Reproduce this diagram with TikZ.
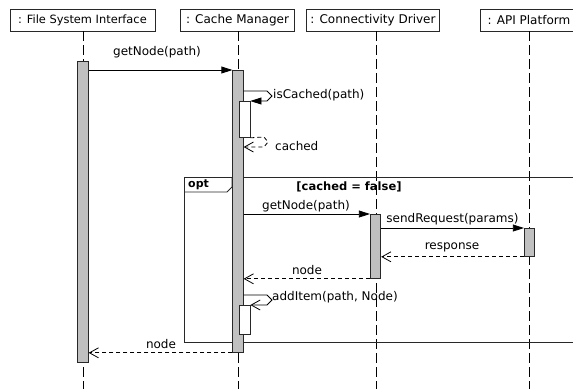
\documentclass[tikz,border=0pt]{standalone}
\usepackage{fontspec}
\setmainfont{DejaVu Sans}
\usetikzlibrary{arrows.meta}
\definecolor{actgray}{RGB}{192,192,192}
\definecolor{linegray}{RGB}{40,40,40}
\begin{document}
\begin{tikzpicture}[x=1pt,y=-1pt,
  every node/.style={font=\fontsize{12}{14}\selectfont},
  head/.style={draw=linegray, line width=0.8pt, minimum height=22pt, inner sep=0pt},
  life/.style={draw=black, line width=0.8pt, dash pattern=on 10pt off 4pt},
  act/.style={draw=linegray, fill=actgray, line width=0.8pt, minimum width=10.5pt, inner sep=0pt, anchor=north},
  nest/.style={draw=linegray, fill=white, line width=0.8pt, minimum width=11pt, inner sep=0pt, anchor=north},
  call/.style={draw=black, line width=0.8pt, -{Triangle[length=11pt,width=7pt]}},
  selfopen/.style={draw=black, line width=0.8pt, -{Straight Barb[length=9pt,width=10pt]}},
  ret/.style={draw=black, line width=0.8pt, dash pattern=on 4pt off 3pt, -{Straight Barb[length=9pt,width=10pt]}},
  lbl/.style={inner sep=1pt},
  frame/.style={draw=linegray, line width=0.8pt}
]
\useasboundingbox (0,0) rectangle (573,389);
\fill[white] (0,0) rectangle (573,389);

% heads
\node[head, minimum width=145pt, font=\fontsize{11.4}{14}\selectfont] (hfsi) at (82.5,20) {: File System Interface};
\node[head, minimum width=114pt] (hcm) at (237.5,20) {: Cache Manager};
\node[head, minimum width=133pt] (hcd) at (373,20) {: Connectivity Driver};
\node[head, minimum width=98pt] (hapi) at (529,20) {: API Platform};

% lifelines
\coordinate (lfsi) at (83,31);
\coordinate (lcm) at (238,31);
\coordinate (lcd) at (376,31);
\coordinate (lapi) at (529,31);
\coordinate (efsi) at (83,389);
\coordinate (ecm) at (238,389);
\coordinate (ecd) at (376,389);
\coordinate (eapi) at (529,389);
\draw[life] (lfsi) -- (efsi);
\draw[life] (lcm) -- (ecm);
\draw[life] (lcd) -- (ecd);
\draw[life] (lapi) -- (eapi);

% opt frame
\draw[frame] (184.5,177) rectangle (590,342);
\draw[frame] (184.5,192) -- (227,192) -- (232,187) -- (232,177);
\node[lbl, font=\fontsize{11}{13}\selectfont\bfseries, anchor=west] (optlbl) at (187,184.5) {opt};
\node[lbl, font=\fontsize{11.5}{13}\selectfont\bfseries] (guard) at (349,187) {[cached = false]};

% activations
\node[act, minimum height=301pt] (afsi) at (83,61) {};
\node[act, minimum height=282pt] (acm) at (238,70) {};
\node[nest, minimum height=36pt] (n1) at (244.5,101) {};
\node[act, minimum height=64pt] (acd) at (375.5,214) {};
\node[act, minimum height=28pt] (aapi) at (529.5,228) {};
\node[nest, minimum height=29pt] (n2) at (244.5,305) {};

% messages
\draw[call] (afsi.east |- acm.north) -- (acm.north west);
\node[lbl] (t1) at (157,52.5) {getNode(path)};

\coordinate (s1a) at (acm.east |- 0,91);
\draw[call] (s1a) -- (267,91) -- (272,96) -- (267,101) -- (n1.north east);
\node[lbl, anchor=west] (t2) at (272,95) {isCached(path)};

\coordinate (r1b) at (acm.east |- 0,147);
\draw[ret] (n1.south east) -- (264,137) -- (268,142) -- (264,147) -- (r1b);
\node[lbl, anchor=west] (t3) at (274,146) {cached};

\draw[call] (acm.east |- acd.north) -- (acd.north west);
\node[lbl] (t4) at (306,206.5) {getNode(path)};

\draw[call] (acd.east |- aapi.north) -- (aapi.north west);
\node[lbl] (t5) at (452.5,219.5) {sendRequest(params)};

\draw[ret] (aapi.south west) -- (acd.east |- aapi.south);
\node[lbl] (t6) at (452,247) {response};

\draw[ret] (acd.south west) -- (acm.east |- acd.south);
\node[lbl] (t7) at (307,270) {node};

\coordinate (s2a) at (acm.east |- 0,295);
\draw[selfopen] (s2a) -- (267,295) -- (272,300) -- (267,305) -- (n2.north east);
\node[lbl, anchor=west] (t8) at (271,297.5) {addItem(path, Node)};

\draw[ret] (acm.south west) -- (afsi.east |- acm.south);
\node[lbl] (t9) at (161,344) {node};
\end{tikzpicture}
\end{document}
